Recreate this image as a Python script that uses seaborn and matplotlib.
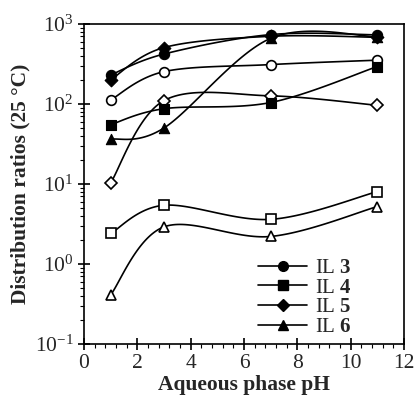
"""
Distribution ratios of ILs vs aqueous phase pH
"""
import numpy as np
import pandas as pd
import seaborn as sns
import matplotlib.pyplot as plt
from matplotlib.lines import Line2D
from matplotlib.ticker import LogLocator, MultipleLocator

ph = [1, 3, 7, 11]

# filled markers (in legend)
il3 = [230, 420, 735, 730]
il4 = [55, 87, 104, 293]
il5 = [200, 506, 700, 680]
il6 = [36, 50, 660, 690]
# open markers
il3_open = [112, 253, 310, 352]
il4_open = [2.4, 5.4, 3.6, 8.0]
il5_open = [10.3, 110, 126, 96]
il6_open = [0.41, 2.9, 2.2, 5.2]

labels = ['3', '4', '5', '6']
markers = ['o', 's', 'D', '^']

sns.set_style('ticks')
plt.rcParams['font.family'] = ['Liberation Serif', 'DejaVu Serif']
plt.rcParams['mathtext.fontset'] = 'custom'
plt.rcParams['mathtext.rm'] = 'Liberation Serif'
plt.rcParams['mathtext.bf'] = 'Liberation Serif:bold'


def smooth(x, y, n=40):
    # excel-like smoothed line: bezier through points in (x, log y)
    p = np.column_stack([np.asarray(x, float), np.log10(y)])
    pts = np.vstack([p[0], p, p[-1]])
    out = []
    for i in range(1, len(pts) - 2):
        p0, p1, p2, p3 = pts[i - 1], pts[i], pts[i + 1], pts[i + 2]
        c1 = p1 + (p2 - p0) / 6
        c2 = p2 - (p3 - p1) / 6
        t = np.linspace(0, 1, n)[:, None]
        seg = ((1 - t) ** 3 * p1 + 3 * (1 - t) ** 2 * t * c1
               + 3 * (1 - t) * t ** 2 * c2 + t ** 3 * p2)
        out.append(seg)
    c = np.vstack(out)
    return c[:, 0], 10 ** c[:, 1]


fig = plt.figure(figsize=(4.16, 4.05), dpi=100)
ax = fig.add_axes([0.202, 0.151, 0.769, 0.790])

filled = [il3, il4, il5, il6]
opened = [il3_open, il4_open, il5_open, il6_open]

for vals, m in zip(opened, markers):
    sx, sy = smooth(ph, vals)
    ax.plot(sx, sy, color='black', lw=1.2, zorder=2)
    ax.plot(ph, vals, marker=m, ls='none', ms=7 if m != 'D' else 6,
            mfc='white', mec='black', mew=1.2, zorder=3)

for vals, m in zip(filled, markers):
    sx, sy = smooth(ph, vals)
    ax.plot(sx, sy, color='black', lw=1.2, zorder=2)
    df = pd.DataFrame({'pH': ph, 'D': vals})
    sns.scatterplot(data=df, x='pH', y='D', marker=m, s=55 if m != 'D' else 42,
                    color='black', edgecolor='black', linewidth=0.8, ax=ax, zorder=4)

ax.set_yscale('log')
ax.set_ylim(0.1, 1000)
ax.set_xlim(0, 12)
ax.xaxis.set_major_locator(MultipleLocator(2))
ax.xaxis.set_minor_locator(MultipleLocator(0.4))
ax.yaxis.set_major_locator(LogLocator(base=10, numticks=10))
ax.yaxis.set_minor_locator(LogLocator(base=10, subs=np.arange(2, 10), numticks=20))
ax.tick_params(which='major', direction='inout', length=8, width=1.2, labelsize=15.5, color='black')
ax.tick_params(which='minor', direction='out', length=3, width=0.8, color='black')
for s in ax.spines.values():
    s.set_linewidth(1.2)
    s.set_color('black')

ax.set_xlabel('Aqueous phase pH', fontsize=15.5, fontweight='bold', labelpad=1)
ax.set_ylabel('Distribution ratios (25 °C)', fontsize=15.5, fontweight='bold', labelpad=3)

handles = [Line2D([], [], color='black', lw=1.2, marker=m, ms=7 if m != 'D' else 6,
                  mfc='black', mec='black') for m in markers]
ax.legend(handles, ['IL $\\mathbf{%s}$' % l for l in labels], loc='lower left',
          bbox_to_anchor=(0.544, 0.022), frameon=False, fontsize=15, handlelength=2.35,
          labelspacing=0.0, handletextpad=0.38, borderpad=0, borderaxespad=0)

fig.savefig('out.png', dpi=100)
